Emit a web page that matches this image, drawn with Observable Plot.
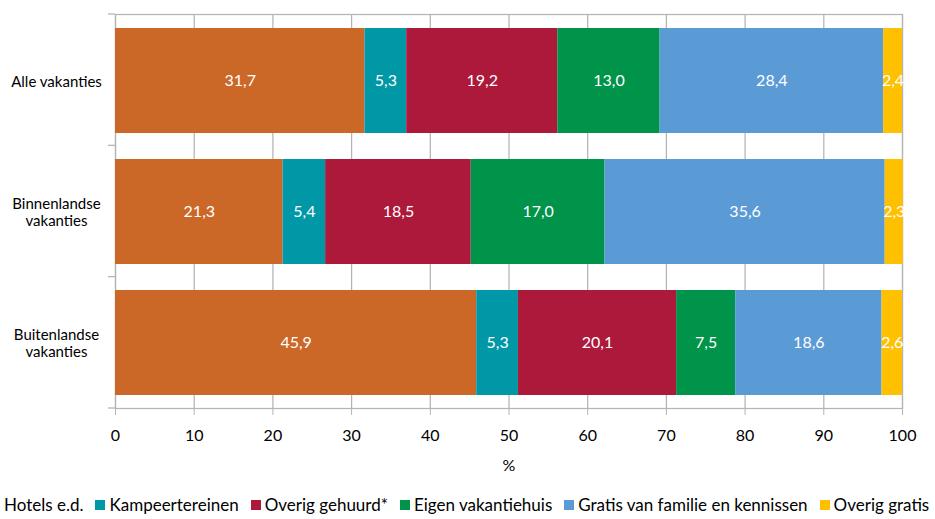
<!DOCTYPE html>
<html>
<head>
<meta charset="utf-8">
<script src="https://cdn.jsdelivr.net/npm/d3@7"></script>
<script src="https://cdn.jsdelivr.net/npm/@observablehq/plot@0.6"></script>
<style>
  html, body { margin: 0; padding: 0; background: #fff; overflow: hidden; }
  body { width: 935px; height: 519px; font-family: Lato, "Noto Sans", sans-serif; }
  #legend { position: relative; left: -10px; display: flex; flex-wrap: nowrap; white-space: nowrap;
            align-items: center; height: 29px; font-size: 17px; color: #000; }
  #legend .item { display: flex; align-items: center; margin-right: 12px; }
  #legend .sw { width: 10px; height: 10px; margin-right: 4px; }
</style>
</head>
<body>
<div id="chart"></div>
<div id="legend"></div>
<script>
const categories = ["Alle vakanties", "Binnenlandse\nvakanties", "Buitenlandse\nvakanties"];
const series = ["Hotels e.d.", "Kampeertereinen", "Overig gehuurd*", "Eigen vakantiehuis", "Gratis van familie en kennissen", "Overig gratis"];
const colors = ["#CB6828", "#0098A6", "#AD193B", "#00934A", "#5B9BD5", "#FFC000"];
const hotels = [31.7, 21.3, 45.9];
const kampeer = [5.3, 5.4, 5.3];
const overigGehuurd = [19.2, 18.5, 20.1];
const eigen = [13.0, 17.0, 7.5];
const gratisFamilie = [28.4, 35.6, 18.6];
const overigGratis = [2.4, 2.3, 2.6];
const xTicks = [0, 10, 20, 30, 40, 50, 60, 70, 80, 90, 100];

const seriesValues = [hotels, kampeer, overigGehuurd, eigen, gratisFamilie, overigGratis];
const data = [];
categories.forEach((c, ci) => {
  series.forEach((s, si) => data.push({category: c, series: s, value: seriesValues[si][ci]}));
});
const fmt = v => v.toFixed(1).replace(".", ",");
const gray = "#B4B4B4";

function bandTicks(index, scales, values, dim) {
  const g = d3.create("svg:g");
  const x0 = dim.marginLeft;
  const top = dim.marginTop, bottom = dim.height - dim.marginBottom;
  const n = categories.length;
  for (let k = 0; k <= n; k++) {
    const y = top + k * (bottom - top) / n;
    g.append("line").attr("x1", x0 - 7).attr("x2", x0).attr("y1", y).attr("y2", y)
      .attr("stroke", gray).attr("stroke-width", 1.25);
  }
  return g.node();
}

const chart = Plot.plot({
  width: 935,
  height: 490,
  marginLeft: 115,
  marginRight: 33,
  marginTop: 14,
  marginBottom: 82,
  style: {fontFamily: "Lato, 'Noto Sans', sans-serif", background: "#fff", color: "#000"},
  x: {domain: [0, 100]},
  y: {domain: categories, paddingInner: 0.2, paddingOuter: 0.1},
  color: {domain: series, range: colors},
  marks: [
    Plot.ruleX(xTicks, {stroke: gray, strokeWidth: 1.25}),
    Plot.frame({stroke: gray, strokeWidth: 1.25}),
    Plot.barX(data, {x: "value", y: "category", fill: "series"}),
    Plot.text(data, Plot.stackX({x: "value", y: "category", z: "series", text: d => fmt(d.value), fill: "white", fontSize: 16})),
    Plot.axisX({ticks: xTicks, tickSize: 7, tickPadding: 14, stroke: gray, fill: "#000", fontSize: 16,
                label: "%", labelAnchor: "center", labelArrow: "none", labelOffset: 62}),
    Plot.axisY({tickSize: 0, tickPadding: 59, textAnchor: "middle", fontSize: 15, lineHeight: 1.15, fill: "#000", label: null}),
    bandTicks
  ]
});
document.getElementById("chart").appendChild(chart);

const legend = document.getElementById("legend");
series.forEach((s, i) => {
  const item = document.createElement("div");
  item.className = "item";
  const sw = document.createElement("div");
  sw.className = "sw";
  sw.style.background = colors[i];
  const t = document.createElement("span");
  t.textContent = s;
  item.appendChild(sw);
  item.appendChild(t);
  legend.appendChild(item);
});
</script>
</body>
</html>
